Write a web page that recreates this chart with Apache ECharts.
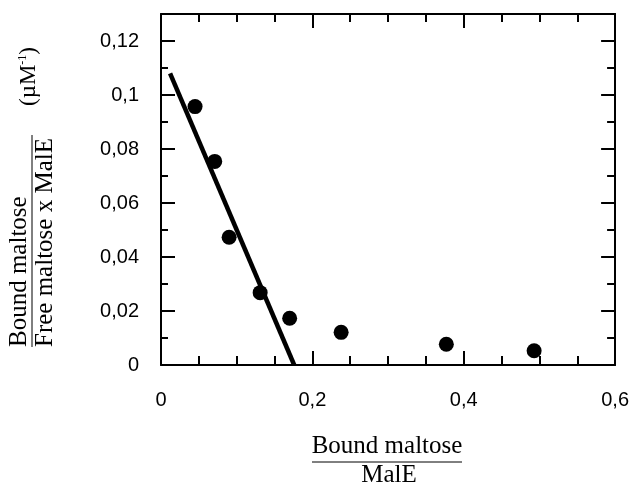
<!DOCTYPE html>
<html>
<head>
<meta charset="utf-8">
<script src="https://cdn.jsdelivr.net/npm/echarts@6/dist/echarts.min.js"></script>
<style>
  html, body { margin: 0; padding: 0; background: #fff; }
  #chart { width: 632px; height: 485px; }
</style>
</head>
<body>
<div id="chart"></div>
<script>
// Scatchard plot: bound/MalE vs bound/(free x MalE)
const boundRatio = [0.045, 0.071, 0.090, 0.131, 0.170, 0.238, 0.377, 0.493];
const scatchardY = [0.0957, 0.0754, 0.0473, 0.0268, 0.0173, 0.0121, 0.0077, 0.0053];

// Linear fit through the high-affinity points
const fitX = [0.012, 0.176];
const fitY = [0.108, 0.0];

const xTicks = [0, 0.2, 0.4, 0.6];
const yTicks = [0, 0.02, 0.04, 0.06, 0.08, 0.1, 0.12];

const comma = v => String(Math.round(v * 1000) / 1000).replace('.', ',');

const chart = echarts.init(document.getElementById('chart'), null, { renderer: 'canvas' });

const axisLine = { show: true, onZero: false, lineStyle: { color: '#000', width: 2 } };
const labelFont = { color: '#000', fontSize: 20, fontFamily: 'Liberation Sans, Arial, sans-serif' };
const serif = 'Liberation Serif, Times New Roman, serif';

chart.setOption({
  animation: false,
  backgroundColor: '#fff',
  grid: { left: 161, right: 15, top: 14, bottom: 120, containLabel: false },
  xAxis: [
    {
      type: 'value', position: 'bottom', min: 0, max: 0.6, interval: 0.2,
      axisLine,
      axisTick: { show: true, inside: true, length: 14, lineStyle: { color: '#000', width: 2 } },
      minorTick: { show: true, splitNumber: 4, length: 9, lineStyle: { color: '#000', width: 2 } },
      axisLabel: Object.assign({ margin: 25, formatter: v => xTicks.includes(v) ? comma(v) : '' }, labelFont),
      splitLine: { show: false }
    },
    {
      type: 'value', position: 'top', min: 0, max: 0.6, interval: 0.2,
      axisLine,
      axisTick: { show: true, inside: true, length: 14, lineStyle: { color: '#000', width: 2 } },
      minorTick: { show: true, splitNumber: 4, length: 8, lineStyle: { color: '#000', width: 2 } },
      axisLabel: { show: false },
      splitLine: { show: false }
    }
  ],
  yAxis: [
    {
      type: 'value', position: 'left', min: 0, max: 0.13, interval: 0.02,
      axisLine,
      axisTick: { show: true, inside: true, length: 14, lineStyle: { color: '#000', width: 2 } },
      minorTick: { show: true, splitNumber: 2, length: 7, lineStyle: { color: '#000', width: 2 } },
      axisLabel: Object.assign({ margin: 22, showMaxLabel: false, formatter: v => yTicks.some(t => Math.abs(t - v) < 1e-9) ? comma(v) : '' }, labelFont),
      splitLine: { show: false }
    },
    {
      type: 'value', position: 'right', min: 0, max: 0.13, interval: 0.02,
      axisLine,
      axisTick: { show: true, inside: true, length: 14, lineStyle: { color: '#000', width: 2 } },
      minorTick: { show: true, splitNumber: 2, length: 8, lineStyle: { color: '#000', width: 2 } },
      axisLabel: { show: false },
      splitLine: { show: false }
    }
  ],
  series: [
    {
      type: 'line',
      data: fitX.map((x, i) => [x, fitY[i]]),
      showSymbol: false,
      lineStyle: { color: '#000', width: 4.5 },
      z: 2
    },
    {
      type: 'scatter',
      data: boundRatio.map((x, i) => [x, scatchardY[i]]),
      symbol: 'circle',
      symbolSize: 15,
      itemStyle: { color: '#000', opacity: 1 },
      z: 3
    }
  ],
  graphic: [
    // x-axis title as a fraction
    { type: 'text', x: 387, y: 459, style: { text: 'Bound maltose', font: '25px ' + serif, fill: '#000', textAlign: 'center', textVerticalAlign: 'bottom' } },
    { type: 'line', shape: { x1: 312, y1: 462, x2: 462, y2: 462 }, style: { stroke: '#000', lineWidth: 1 } },
    { type: 'text', x: 389, y: 463, style: { text: 'MalE', font: '25px ' + serif, fill: '#000', textAlign: 'center', textVerticalAlign: 'top' } },
    // y-axis title as a rotated fraction
    { type: 'text', x: 32, y: 347, rotation: Math.PI / 2, style: { text: 'Bound maltose', font: '25px ' + serif, fill: '#000', textAlign: 'left', textVerticalAlign: 'bottom' } },
    { type: 'line', shape: { x1: 32, y1: 135, x2: 32, y2: 347 }, style: { stroke: '#000', lineWidth: 1 } },
    { type: 'text', x: 33, y: 347, rotation: Math.PI / 2, style: { text: 'Free maltose x MalE', font: '25px ' + serif, fill: '#000', textAlign: 'left', textVerticalAlign: 'top' } },
    {
      type: 'text', x: 40, y: 106, rotation: Math.PI / 2,
      style: {
        text: '(µM{sup|-1})', font: '23px ' + serif, fill: '#000', textAlign: 'left', textVerticalAlign: 'bottom',
        rich: { sup: { fontSize: 12, fontFamily: serif, verticalAlign: 'top', padding: [0, 0, 10, 0] } }
      }
    }
  ]
});
</script>
</body>
</html>
